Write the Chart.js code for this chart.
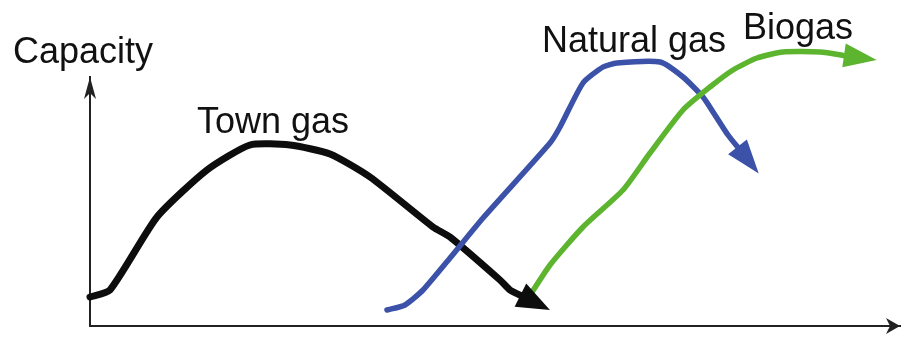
<!DOCTYPE html>
<html>
<head>
<meta charset="utf-8">
<script src="https://cdn.jsdelivr.net/npm/chart.js@4.4.1/dist/chart.umd.min.js"></script>
<style>
  html, body { margin: 0; padding: 0; background: #fff; }
  #wrap { width: 902px; height: 338px; position: relative; }
</style>
</head>
<body>
<div id="wrap"><canvas id="gasChart"></canvas></div>
<script>
// schematic curves (x = time, y = capacity, arbitrary units)
const townGasX = [0, 20, 67, 117, 160, 200, 240, 280, 343, 360, 410, 420, 434];
const townGasY = [29, 36, 109, 156, 181, 181, 172, 149, 99, 89, 46, 36, 29];
const naturalGasX = [297, 315, 333, 360, 393, 460, 470, 493, 513, 527, 570, 593, 613, 625, 638, 650];
const naturalGasY = [16, 21, 36, 68, 108, 183, 199, 243, 259, 263, 264, 249, 229, 211, 191, 176];
const biogasX = [437, 460, 493, 533, 560, 593, 620, 643, 667, 693, 730, 758];
const biogasY = [26, 61, 99, 136, 173, 216, 239, 256, 268, 274, 274, 270];
const seriesNames = ['Town gas', 'Natural gas', 'Biogas'];
const axisTitle = 'Capacity';

const toPoints = (xs, ys) => xs.map((x, i) => ({ x: x, y: ys[i] }));

const FONT = '36px "Liberation Sans", Arial, sans-serif';

// arrowhead at the end of every curve, pointing along the last segment
const arrowHeads = {
  id: 'arrowHeads',
  afterDatasetsDraw(chart) {
    const ctx = chart.ctx;
    chart.data.datasets.forEach((ds, i) => {
      const pts = chart.getDatasetMeta(i).data;
      const a = pts[pts.length - 2];
      const b = pts[pts.length - 1];
      const ang = Math.atan2(b.y - a.y, b.x - a.x);
      const len = ds.headLength;
      const half = ds.headWidth / 2;
      ctx.save();
      ctx.translate(b.x, b.y);
      ctx.rotate(ang);
      ctx.beginPath();
      ctx.moveTo(len, 0);
      ctx.lineTo(-4, -half);
      ctx.lineTo(-4, half);
      ctx.closePath();
      ctx.fillStyle = ds.borderColor;
      ctx.fill();
      ctx.restore();
    });
  }
};

// arrow tips on both axes
const axisArrows = {
  id: 'axisArrows',
  afterDraw(chart) {
    const { ctx, chartArea } = chart;
    ctx.save();
    ctx.fillStyle = '#222';
    // y axis, pointing up
    ctx.beginPath();
    ctx.moveTo(chartArea.left, chartArea.top);
    ctx.lineTo(chartArea.left - 6, chartArea.top + 22);
    ctx.lineTo(chartArea.left, chartArea.top + 16);
    ctx.lineTo(chartArea.left + 6, chartArea.top + 22);
    ctx.closePath();
    ctx.fill();
    // x axis, pointing right
    ctx.beginPath();
    ctx.moveTo(chartArea.right, chartArea.bottom);
    ctx.lineTo(chartArea.right - 14, chartArea.bottom - 8);
    ctx.lineTo(chartArea.right - 10, chartArea.bottom);
    ctx.lineTo(chartArea.right - 14, chartArea.bottom + 8);
    ctx.closePath();
    ctx.fill();
    ctx.restore();
  }
};

// text labels placed in data coordinates
const curveLabels = {
  id: 'curveLabels',
  afterDraw(chart, args, opts) {
    const { ctx, scales } = chart;
    ctx.save();
    ctx.font = FONT;
    ctx.fillStyle = '#111';
    ctx.textBaseline = 'alphabetic';
    ctx.textAlign = 'left';
    opts.items.forEach(item => {
      ctx.fillText(item.text, scales.x.getPixelForValue(item.x), scales.y.getPixelForValue(item.y));
    });
    ctx.restore();
  }
};

const gasData = {
  datasets: [{
    label: seriesNames[0],
    data: toPoints(townGasX, townGasY),
    borderColor: '#0d0d0d',
    borderWidth: 7,
    headLength: 29,
    headWidth: 26,
    order: 3
  }, {
    label: seriesNames[1],
    data: toPoints(naturalGasX, naturalGasY),
    borderColor: '#3b52a8',
    borderWidth: 5.5,
    headLength: 30,
    headWidth: 24,
    order: 2
  }, {
    label: seriesNames[2],
    data: toPoints(biogasX, biogasY),
    borderColor: '#5db52f',
    borderWidth: 5.5,
    headLength: 29,
    headWidth: 24,
    order: 1
  }]
};

const gasConfig = {
  type: 'scatter',
  data: gasData,
  options: {
    responsive: true,
    maintainAspectRatio: false,
    animation: false,
    showLine: true,
    layout: { padding: { left: 90, top: 77, right: 2, bottom: 12 } },
    elements: {
      point: { radius: 0, hoverRadius: 0 },
      line: { tension: 0.2, borderCapStyle: 'round', borderJoinStyle: 'round' }
    },
    datasets: { scatter: { clip: false } },
    scales: {
      x: {
        type: 'linear', min: 0, max: 810,
        ticks: { display: false },
        grid: { display: false, drawTicks: false },
        border: { display: true, color: '#222', width: 2 }
      },
      y: {
        type: 'linear', min: 0, max: 249,
        ticks: { display: false },
        grid: { display: false, drawTicks: false },
        border: { display: true, color: '#222', width: 2 }
      }
    },
    plugins: {
      legend: { display: false },
      tooltip: { enabled: false },
      curveLabels: {
        items: [
          { text: axisTitle, x: -77, y: 263 },
          { text: seriesNames[0], x: 107, y: 193 },
          { text: seriesNames[1], x: 452, y: 274 },
          { text: seriesNames[2], x: 653, y: 287 }
        ]
      }
    }
  },
  plugins: [arrowHeads, axisArrows, curveLabels]
};

const gasChart = new Chart(document.getElementById('gasChart'), gasConfig);
</script>
</body>
</html>
